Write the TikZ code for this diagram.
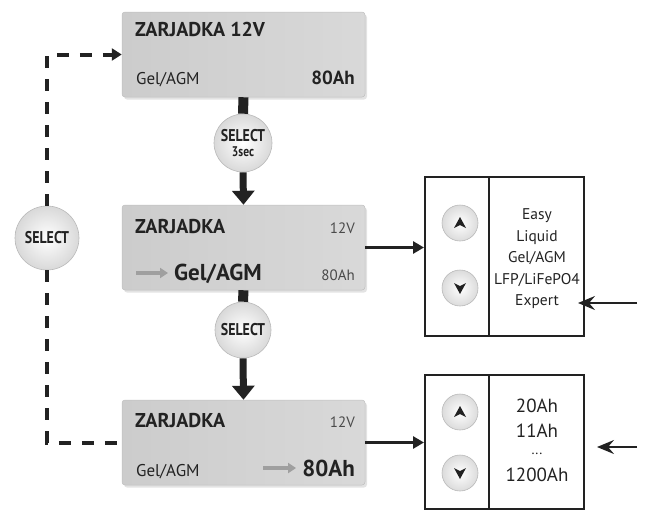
\documentclass[tikz,border=0pt]{standalone}
\usepackage{fontspec}
\setmainfont{PT Sans}
\usetikzlibrary{arrows.meta,positioning,calc,shadows}

\definecolor{inkgray}{HTML}{222222}
\definecolor{softgray}{HTML}{4A4A4A}

\newcommand{\seltxt}[1]{\scalebox{0.82}[1]{#1}}

\begin{document}
\begin{tikzpicture}[
  x=1pt, y=-1pt,
  panel/.style={draw=gray!50, line width=0.5pt, rounded corners=3pt, minimum width=243pt, minimum height=85pt, left color=gray!40, right color=gray!30, drop shadow={opacity=0.22, shadow xshift=2pt, shadow yshift=-2.5pt}},
  ptxt/.style={inner sep=0pt, text=inkgray},
  selbtn/.style={circle, draw=gray!55, line width=0.6pt, inner color=white, outer color=gray!30, align=center, inner sep=0pt, font=\bfseries\fontsize{17}{14}\selectfont, text=inkgray},
  arbtn/.style={circle, draw=gray!55, line width=0.6pt, inner color=white, outer color=gray!28, minimum size=36pt, inner sep=0pt},
  menu/.style={draw=inkgray, line width=2pt, minimum width=159pt, inner sep=0pt},
  mtxt/.style={align=center, inner sep=0pt, text=inkgray},
  stub/.style={line width=10pt, draw=inkgray},
  downarr/.style={line width=7pt, draw=inkgray, -{Triangle[width=22pt,length=14pt]}},
  rightarr/.style={line width=3.5pt, draw=inkgray, -{Triangle[width=12pt,length=11pt]}},
  inarr/.style={line width=2pt, draw=inkgray, -{Stealth[width=14pt,length=17pt,inset=6pt]}},
  backline/.style={line width=4pt, draw=inkgray, dash pattern=on 12pt off 11pt},
  pointer/.style={line width=4pt, draw=gray!75, -{Triangle[width=10pt,length=8pt]}}
]
\useasboundingbox (0,0) rectangle (645,517);

% the three display states
\node[panel] (box1) at (243.5,54.5) {};
\node[panel] (box2) at (243.5,247.5) {};
\node[panel] (box3) at (243.5,442.5) {};

\node[ptxt, anchor=base west, font=\fontsize{20}{20}\selectfont\bfseries] (title1) at (135,36) {ZARJADKA 12V};
\node[ptxt, anchor=base west, font=\fontsize{17}{17}\selectfont] (type1) at (136,84) {Gel/AGM};
\node[ptxt, anchor=base east, font=\fontsize{19}{19}\selectfont\bfseries] (cap1) at (355,84) {80Ah};

\node[ptxt, anchor=base west, font=\fontsize{20}{20}\selectfont\bfseries] (title2) at (135,233) {ZARJADKA};
\node[ptxt, anchor=base east, text=softgray, font=\fontsize{15}{15}\selectfont] (volt2) at (355,233) {12V};
\node[ptxt, anchor=base west, font=\fontsize{23}{23}\selectfont\bfseries] (type2) at (174,280) {Gel/AGM};
\node[ptxt, anchor=base east, text=softgray, font=\fontsize{15}{15}\selectfont] (cap2) at (355,280) {80Ah};
\coordinate (ptr2) at (136,273);
\draw[pointer] (ptr2) -- ([xshift=-6pt]type2.base west |- ptr2);

\node[ptxt, anchor=base west, font=\fontsize{20}{20}\selectfont\bfseries] (title3) at (135,427) {ZARJADKA};
\node[ptxt, anchor=base east, text=softgray, font=\fontsize{15}{15}\selectfont] (volt3) at (355,427) {12V};
\node[ptxt, anchor=base west, font=\fontsize{17}{17}\selectfont] (type3) at (136,476) {Gel/AGM};
\node[ptxt, anchor=base east, font=\fontsize{23}{23}\selectfont\bfseries] (cap3) at (355,476) {80Ah};
\coordinate (ptr3) at (263,468);
\draw[pointer] (ptr3) -- ([xshift=-6pt]cap3.base west |- ptr3);

% select buttons
\node[selbtn, minimum size=58pt] (sel1) at (243,143) {\seltxt{SELECT}\\[1pt]{\fontsize{14}{14}\selectfont\seltxt{3sec}}};
\node[selbtn, minimum size=56pt] (sel2) at (243,330) {\seltxt{SELECT}};
\node[selbtn, minimum size=64pt] (selL) at (47,238) {\seltxt{SELECT}};

\draw[stub] (box1.south) -- (sel1.north);
\draw[downarr] (sel1.south) -- (box2.north);
\draw[stub] (box2.south) -- (sel2.north);
\draw[downarr] (sel2.south) -- (box3.north);

% way back
\draw[backline, -{Triangle[width=12pt,length=10pt]}] (selL.north) |- (box1.west);
\draw[backline] (selL.south) |- (box3.west);

% type menu
\node[menu, minimum height=159pt] (mtype) at (504.5,256.5) {};
\draw[line width=1.2pt, inkgray] ([xshift=65pt]mtype.north west) -- ([xshift=65pt]mtype.south west);
\node[arbtn] (up1) at (460,223) {};
\node[arbtn] (dn1) at (460,288) {};
\fill[inkgray] ($(up1)+(0,-6)$) -- ($(up1)+(6,5)$) -- ($(up1)+(0,2)$) -- ($(up1)+(-6,5)$) -- cycle;
\fill[inkgray] ($(dn1)+(0,6)$) -- ($(dn1)+(6,-5)$) -- ($(dn1)+(0,-2)$) -- ($(dn1)+(-6,-5)$) -- cycle;
\node[mtxt, font=\fontsize{15.5}{21.5}\selectfont] (types) at (537,259) {Easy\\Liquid\\Gel/AGM\\LFP/LiFePO4\\Expert};
\draw[rightarr] (box2.east) -- (box2.east -| mtype.west);
\coordinate (in1) at (637,303);
\coordinate (in1end) at (578,303);
\draw[inarr] (in1) -- (in1end);

% capacity menu
\node[menu, minimum height=134pt] (mcap) at (504.5,442) {};
\draw[line width=1.2pt, inkgray] ([xshift=65pt]mcap.north west) -- ([xshift=65pt]mcap.south west);
\node[arbtn] (up2) at (460,412) {};
\node[arbtn] (dn2) at (460,473) {};
\fill[inkgray] ($(up2)+(0,-6)$) -- ($(up2)+(6,5)$) -- ($(up2)+(0,2)$) -- ($(up2)+(-6,5)$) -- cycle;
\fill[inkgray] ($(dn2)+(0,6)$) -- ($(dn2)+(6,-5)$) -- ($(dn2)+(0,-2)$) -- ($(dn2)+(-6,-5)$) -- cycle;
\node[mtxt, font=\fontsize{19}{25}\selectfont] (caps) at (537,440) {20Ah\\11Ah\\[-4pt]{\fontsize{14}{14}\selectfont\raisebox{4pt}{...}}\\[-2pt]1200Ah};
\draw[rightarr] (box3.east) -- (box3.east -| mcap.west);
\coordinate (in2) at (637,447);
\coordinate (in2end) at (597,447);
\draw[inarr] (in2) -- (in2end);
\end{tikzpicture}
\end{document}
